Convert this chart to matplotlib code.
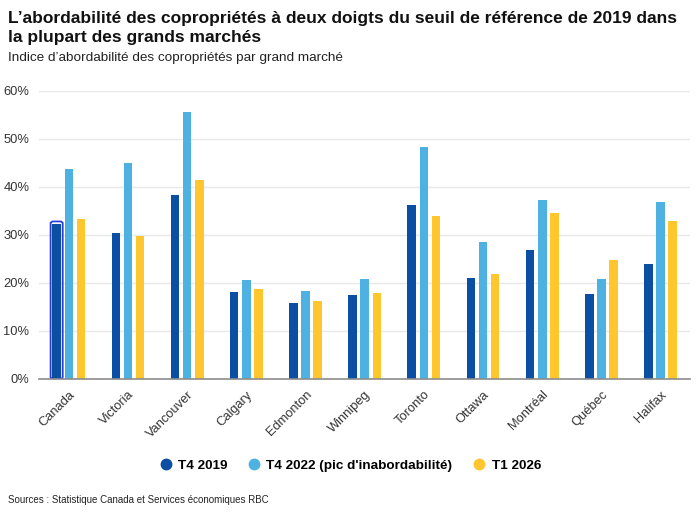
import numpy as np
import matplotlib
matplotlib.use("Agg")
import matplotlib.pyplot as plt
from matplotlib.lines import Line2D
from matplotlib.patches import FancyBboxPatch

plt.rcParams['font.family'] = ['Liberation Sans', 'DejaVu Sans']

marches = ['Canada', 'Victoria', 'Vancouver', 'Calgary', 'Edmonton', 'Winnipeg',
           'Toronto', 'Ottawa', 'Montréal', 'Québec', 'Halifax']
t4_2019 = [32.3, 30.4, 38.3, 18.2, 15.8, 17.4, 36.2, 21.1, 26.9, 17.6, 24.0]
t4_2022 = [43.7, 44.9, 55.6, 20.6, 18.4, 20.8, 48.3, 28.5, 37.2, 20.8, 36.8]
t1_2026 = [33.4, 29.8, 41.5, 18.7, 16.2, 17.8, 33.9, 21.8, 34.6, 24.8, 32.8]
series_labels = ['T4 2019', "T4 2022 (pic d'inabordabilité)", 'T1 2026']
colors = ['#0a4fa3', '#4db2e2', '#ffc62e']
y_ticks = [0, 10, 20, 30, 40, 50, 60]

fig = plt.figure(figsize=(7, 5.22), dpi=100)
ax = fig.add_axes([0.056, 0.274, 0.93, 0.552])

x = np.arange(len(marches))
w = 0.145
off = 0.205
for i, (vals, c) in enumerate(zip([t4_2019, t4_2022, t1_2026], colors)):
    ax.bar(x + (i - 1) * off, vals, width=w, color=c, zorder=3)

# contour de survol autour de la première barre
hl = FancyBboxPatch((x[0] - off - w / 2 - 0.03, 0), w + 0.06, t4_2019[0] + 0.5,
                    boxstyle="round,pad=0,rounding_size=0.05", fill=False,
                    edgecolor='#2d3fd8', linewidth=1.3, zorder=4,
                    mutation_aspect=8)
ax.add_patch(hl)

ax.set_xlim(-0.5, len(marches) - 0.5)
ax.set_ylim(0, 60)
ax.set_yticks(y_ticks)
ax.set_yticklabels([f'{t}%' for t in y_ticks])
ax.set_xticks(x)
ax.set_xticklabels(marches, rotation=45, ha='right', rotation_mode='anchor')
ax.tick_params(axis='both', length=0, labelsize=9.3, colors='#333333')
ax.tick_params(axis='y', pad=7)
ax.tick_params(axis='x', pad=7)
ax.grid(axis='y', color='#e8e8e8', linewidth=1, zorder=0)
for s in ['top', 'right', 'left']:
    ax.spines[s].set_visible(False)
ax.spines['bottom'].set_color('#8c8c8c')
ax.spines['bottom'].set_linewidth(1.2)
ax.spines['bottom'].set_zorder(5)

fig.text(0.011, 0.978, "L’abordabilité des copropriétés à deux doigts du seuil de référence de 2019 dans\nla plupart des grands marchés",
         fontsize=12.5, fontweight='bold', va='top', ha='left', color='#111111', linespacing=1.3)
fig.text(0.011, 0.888, "Indice d’abordabilité des copropriétés par grand marché",
         fontsize=9.7, va='center', ha='left', color='#222222')

handles = [Line2D([0], [0], marker='o', linestyle='', markersize=7.5,
                  markerfacecolor=c, markeredgecolor=c) for c in colors]
leg = fig.legend(handles, series_labels, loc='center', bbox_to_anchor=(0.5, 0.108),
                 ncol=3, frameon=False, handletextpad=0.4, handlelength=1.0,
                 columnspacing=1.5, prop={'weight': 'bold', 'size': 9.7})

fig.text(0.011, 0.042, "Sources : Statistique Canada et Services économiques RBC",
         fontsize=7, va='center', ha='left', color='#222222')

fig.savefig('out.png', dpi=100)
